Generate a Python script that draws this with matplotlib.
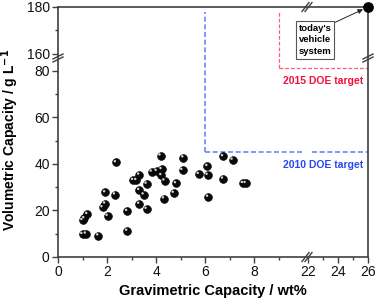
import numpy as np
import matplotlib
matplotlib.use("Agg")
import matplotlib.pyplot as plt
import matplotlib.transforms as mtransforms
from matplotlib.ticker import FixedLocator, NullFormatter

plt.rcParams['font.family'] = ['Liberation Sans', 'DejaVu Sans']

# ---------------- data ----------------
grav = [1.0, 1.14, 1.65, 1.0, 1.08, 1.2, 1.82, 1.93, 2.03, 1.93, 2.33, 2.37,
        2.83, 2.83, 3.07, 3.2, 3.32, 3.32, 3.5, 3.32, 3.62, 3.62, 3.83, 4.03,
        4.19, 4.23, 4.22, 4.35, 4.33, 4.82, 4.73, 5.08, 5.12, 5.75, 6.1, 6.11,
        6.13, 6.74, 6.74, 7.13, 7.55, 7.66]
vol = [9.8, 10.0, 9.2, 15.8, 16.6, 18.4, 21.3, 22.9, 17.6, 27.7, 26.8, 40.6,
       11.2, 19.7, 33.0, 33.0, 35.3, 28.7, 26.8, 22.8, 31.4, 20.6, 36.6, 36.9,
       43.5, 37.7, 35.1, 32.8, 25.1, 31.6, 27.5, 37.3, 42.7, 35.6, 39.0, 35.2,
       25.8, 43.2, 33.6, 41.7, 31.7, 31.7]
vehicle = (26, 180)
doe2010 = (6, 45)
doe2015 = (9, 81)
xticks = [0, 2, 4, 6, 8, 22, 24, 26]
xminor = [1, 3, 5, 7, 9, 23, 25]
yticks = [0, 20, 40, 60, 80, 160, 180]
yminor = [10, 30, 50, 70, 170]

# ---------------- broken scales ----------------
XC = 10.2          # lower-segment cut (wt%)
XR = 15.0 / 24.5   # compression of upper x segment

def xf(x):
    x = np.asarray(x, dtype=float)
    return np.where(x <= XC, x, np.where(x >= 22, XC + (x - 22) * XR, XC))

def xi(u):
    u = np.asarray(u, dtype=float)
    return np.where(u <= XC, u, 22 + (u - XC) / XR)

YC = 84.8
YOFF = 72.7

def yf(y):
    y = np.asarray(y, dtype=float)
    return np.where(y <= YC, y, np.where(y >= YC + YOFF, y - YOFF, YC))

def yi(u):
    u = np.asarray(u, dtype=float)
    return np.where(u <= YC, u, u + YOFF)

W, H = 378, 302
fig = plt.figure(figsize=(W / 100, H / 100), dpi=100)
ax = fig.add_axes([58 / W, (H - 257) / H, 310 / W, 250 / H])
ax.set_xscale('function', functions=(xf, xi))
ax.set_yscale('function', functions=(yf, yi))
ax.set_xlim(0, 26)
ax.set_ylim(0, 180)

spc = '#404040'
for s in ax.spines.values():
    s.set_color(spc)
    s.set_linewidth(1.2)
ax.xaxis.set_major_locator(FixedLocator(xticks))
ax.xaxis.set_minor_locator(FixedLocator(xminor))
ax.yaxis.set_major_locator(FixedLocator(yticks))
ax.yaxis.set_minor_locator(FixedLocator(yminor))
ax.set_xticklabels([str(t) for t in xticks])
ax.set_yticklabels([str(t) for t in yticks])
ax.xaxis.set_minor_formatter(NullFormatter())
ax.yaxis.set_minor_formatter(NullFormatter())
ax.tick_params(which='major', direction='out', length=4, width=1.0, color=spc,
               labelsize=10, pad=2, labelcolor='#111111')
ax.tick_params(which='minor', direction='out', length=2.5, width=1.0, color=spc)

ax.set_xlabel('Gravimetric Capacity / wt%', fontsize=10.5, fontweight='bold',
              labelpad=3)
ax.set_ylabel('Volumetric Capacity / g L$^{\\mathbf{-1}}$', fontsize=10,
              fontweight='bold')
ax.yaxis.set_label_coords(-0.118, 0.47)

# DOE target lines
blue_l = '#6b86ff'
red_l = '#ff5a7c'
ax.plot([doe2010[0], doe2010[0]], [doe2010[1], 178], color=blue_l, lw=1.2,
        ls=(0, (3, 1.6)))
ax.plot([doe2010[0], 10.0], [doe2010[1], doe2010[1]], color=blue_l, lw=1.2,
        ls=(0, (3, 1.6)))
ax.plot([22.3, 26], [doe2010[1], doe2010[1]], color=blue_l, lw=1.2,
        ls=(0, (3, 1.6)))
ax.plot([doe2015[0], doe2015[0]], [doe2015[1], 178], color=red_l, lw=0.9,
        ls=(0, (3, 1.6)))
ax.plot([doe2015[0], 26], [doe2015[1], doe2015[1]], color=red_l, lw=0.9,
        ls=(0, (3, 1.6)))

ax.text(0.985, 0.37, '2010 DOE target', transform=ax.transAxes, ha='right',
        va='center', fontsize=7.5, fontweight='bold', color='#2a48f0')
ax.text(0.985, 0.704, '2015 DOE target', transform=ax.transAxes, ha='right',
        va='center', fontsize=7.5, fontweight='bold', color='#f0103c')

# spheres
ax.scatter(grav, vol, s=32, color='#0a0a0a', edgecolors='#000000',
           linewidths=0.4, zorder=4)
hl = mtransforms.offset_copy(ax.transData, fig=fig, x=-1.2, y=1.2,
                             units='dots')
ax.scatter(grav, vol, s=3, color='#d8d8d8', edgecolors='none', zorder=5,
           transform=hl)

ax.scatter([vehicle[0]], [vehicle[1]], s=45, color='black', zorder=6,
           clip_on=False)
ax.annotate("today's\nvehicle\nsystem", xy=vehicle, xycoords='data',
            xytext=(0.829, 0.868), textcoords='axes fraction',
            ha='center', va='center', fontsize=6.8, fontweight='bold',
            linespacing=1.35,
            bbox=dict(boxstyle='square,pad=0.3', fc='white', ec='#555555',
                      lw=0.8),
            arrowprops=dict(arrowstyle='-|>', color='#222222', lw=0.7,
                            mutation_scale=7, relpos=(1.0, 1.0),
                            shrinkA=0, shrinkB=4),
            zorder=7)

# break marks
def slash(xp, yp, dx=3.5, dy=4.5, gap=3.0):
    for o in (-gap / 2, gap / 2):
        fig.add_artist(plt.Line2D([(xp + o - dx) / W, (xp + o + dx) / W],
                                  [(H - yp - dy) / H, (H - yp + dy) / H],
                                  color=spc, lw=1.0))

def hslash(xp, yp, dx=5, dy=2.5, gap=3.0):
    for o in (-gap / 2, gap / 2):
        fig.add_artist(plt.Line2D([(xp - dx) / W, (xp + dx) / W],
                                  [(H - yp - o - dy) / H, (H - yp - o + dy) / H],
                                  color=spc, lw=1.0))

slash(307, 257)
slash(307, 7)
hslash(58, 58)
hslash(368, 58)

fig.savefig('out.png', dpi=100)
